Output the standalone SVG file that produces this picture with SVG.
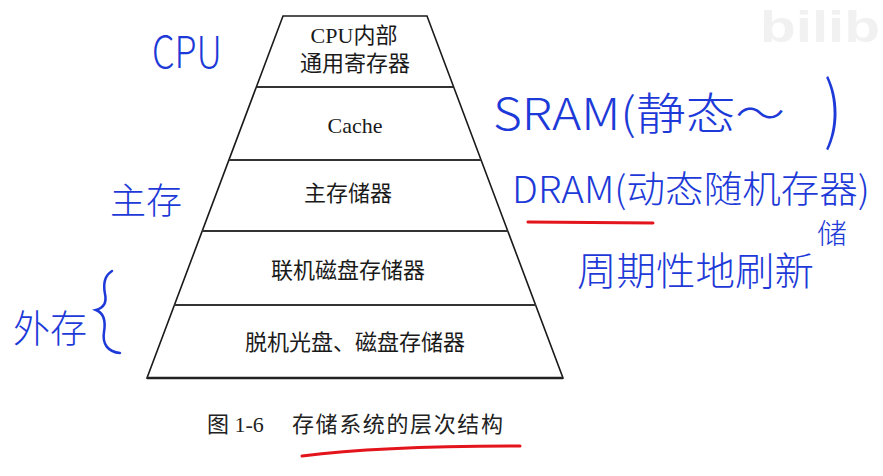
<svg xmlns="http://www.w3.org/2000/svg" width="883" height="476" viewBox="0 0 883 476">
<style>
.lbl{font-family:"Liberation Serif","Noto Sans CJK SC",serif;font-size:22px;fill:#1a1a1a;text-anchor:middle;dominant-baseline:central}
.cap{font-family:"Liberation Serif","Noto Sans CJK SC",serif;font-size:22px;fill:#222;dominant-baseline:central}
.hw{font-family:"Noto Sans CJK SC","Noto Sans",sans-serif;fill:#1d3ad8;font-weight:300}
.edge{stroke:#1a1a1a;stroke-width:1.6;fill:none}
.sep{stroke:#333;stroke-width:1.8}
.red{stroke:#e3141b;stroke-width:3;fill:none;stroke-linecap:round}
.blue{stroke:#1d3ad8;stroke-width:2.5;fill:none;stroke-linecap:round}
</style>
<rect width="883" height="476" fill="#fff"/>
<text x="760" y="42" font-family="Liberation Sans,sans-serif" font-weight="bold" font-size="44" fill="#f1f1f1" textLength="120" lengthAdjust="spacingAndGlyphs">bilib</text>
<g id="pyramid">
  <path class="edge" d="M283,16 L427,16 L563,378 L147,378 Z"/>
  <line class="sep" x1="257" y1="87" x2="453" y2="87"/>
  <line class="sep" x1="229" y1="160" x2="481" y2="160"/>
  <line class="sep" x1="202" y1="231" x2="508" y2="231"/>
  <line class="sep" x1="174" y1="305" x2="536" y2="305"/>
  <line x1="147" y1="378" x2="563" y2="378" stroke="#222" stroke-width="2.4"/>
</g>
<g id="level-cpu"><text class="lbl" x="354" y="35">CPU内部</text><text class="lbl" x="355" y="63">通用寄存器</text></g>
<g id="level-cache"><text class="lbl" x="355" y="125">Cache</text></g>
<g id="level-main"><text class="lbl" x="348" y="193">主存储器</text></g>
<g id="level-online"><text class="lbl" x="348" y="270">联机磁盘存储器</text></g>
<g id="level-offline"><text class="lbl" x="355" y="342">脱机光盘、磁盘存储器</text></g>
<g id="caption">
  <text class="cap" x="207" y="424">图 1-6</text>
  <text class="cap" x="292" y="424" textLength="211">存储系统的层次结构</text>
</g>
<g id="annotations">
  <text class="hw" x="152" y="68" font-size="44" textLength="70" lengthAdjust="spacingAndGlyphs">CPU</text>
  <text class="hw" x="110" y="214" font-size="36" textLength="72" lengthAdjust="spacingAndGlyphs">主存</text>
  <text class="hw" x="13" y="342" font-size="38" textLength="74" lengthAdjust="spacingAndGlyphs">外存</text>
  <path class="blue" d="M112,271 C104,276 103,284 105,294 C107,303 103,308 96,310 C104,313 106,320 104,332 C102,344 108,352 120,353"/>
  <text class="hw" x="493" y="130" font-size="44" textLength="292" lengthAdjust="spacingAndGlyphs">SRAM(静态～</text>
  <text class="hw" x="824" y="136" font-size="74" textLength="18" lengthAdjust="spacingAndGlyphs">)</text>
  <text class="hw" x="512" y="203" font-size="37" textLength="358" lengthAdjust="spacingAndGlyphs">DRAM(动态随机存器)</text>
  <text class="hw" x="817" y="244" font-size="28" textLength="30" lengthAdjust="spacingAndGlyphs">储</text>
  <text class="hw" x="577" y="285" font-size="39" textLength="237" lengthAdjust="spacingAndGlyphs">周期性地刷新</text>
  <path class="red" d="M528,222 L653,223"/>
  <path class="red" d="M302,456 Q380,446 520,446"/>
</g>
</svg>
